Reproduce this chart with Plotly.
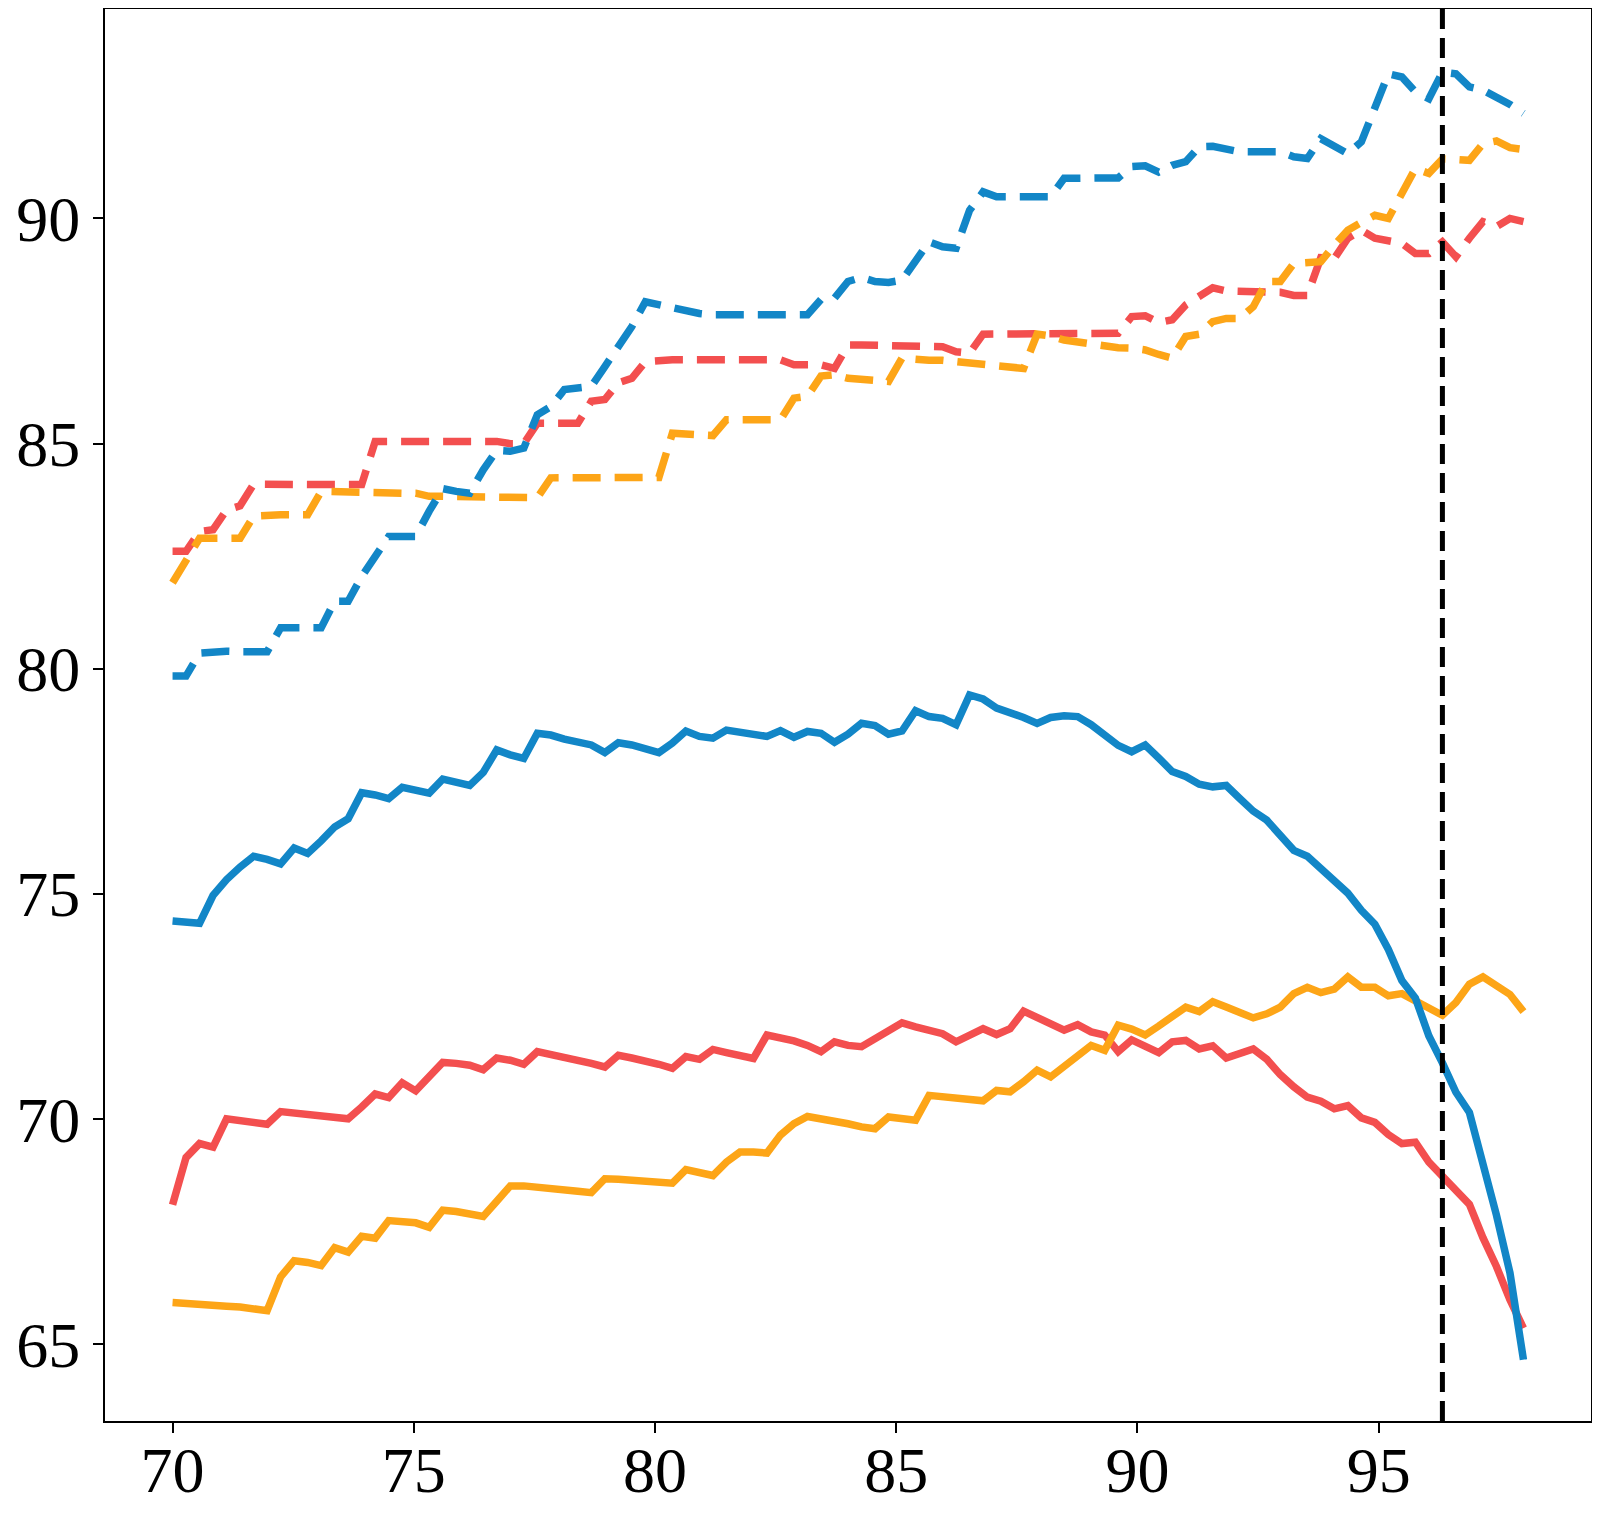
import numpy as np
import plotly.graph_objects as go

# x grid: 101 evenly spaced samples from 70 to 98
x = np.round(np.linspace(70, 98, 101), 2)

blue_solid = [74.4, 74.36, 74.35, 74.97, 75.32, 75.6, 75.84, 75.77, 75.67, 76.02,
              75.9, 76.18, 76.49, 76.67, 77.25, 77.2, 77.12, 77.37, 77.31, 77.24,
              77.55, 77.49, 77.41, 77.7, 78.2, 78.09, 78.01, 78.57, 78.53, 78.44,
              78.37, 78.31, 78.14, 78.36, 78.31, 78.24, 78.14, 78.35, 78.62, 78.5,
              78.46, 78.64, 78.59, 78.51, 78.5, 78.63, 78.48, 78.61, 78.57, 78.37,
              78.55, 78.79, 78.74, 78.55, 78.62, 79.07, 78.94, 78.9, 78.76, 79.42,
              79.33, 79.13, 79.04, 78.92, 78.79, 78.92, 78.96, 78.94, 78.76, 78.52,
              78.3, 78.16, 78.31, 78.02, 77.72, 77.61, 77.44, 77.38, 77.41, 77.12,
              76.84, 76.64, 76.33, 75.97, 75.84, 75.56, 75.27, 75.02, 74.64, 74.33,
              73.77, 73.08, 72.69, 71.85, 71.25, 70.6, 70.15, 69.05, 67.87, 66.59,
              64.66]

red_solid = [68.1, 69.15, 69.46, 69.38, 70.01, 69.97, 69.93, 69.89, 70.17, 70.14,
             70.09, 70.08, 70.07, 70.01, 70.27, 70.56, 70.48, 70.81, 70.63, 70.95,
             71.26, 71.24, 71.2, 71.1, 71.36, 71.31, 71.22, 71.5, 71.44, 71.39,
             71.33, 71.24, 71.16, 71.42, 71.36, 71.3, 71.22, 71.13, 71.39, 71.33,
             71.55, 71.48, 71.4, 71.35, 71.87, 71.81, 71.74, 71.64, 71.5, 71.72,
             71.64, 71.61, 71.79, 71.98, 72.14, 72.05, 71.98, 71.9, 71.72, 71.87,
             72.01, 71.88, 72.01, 72.4, 72.25, 72.13, 71.98, 72.1, 71.94, 71.87,
             71.5, 71.76, 71.64, 71.48, 71.72, 71.75, 71.56, 71.63, 71.36, 71.46,
             71.56, 71.33, 70.99, 70.72, 70.49, 70.4, 70.23, 70.3, 70.03, 69.93,
             69.66, 69.46, 69.49, 69.05, 68.75, 68.46, 68.11, 67.37, 66.73, 65.99,
             65.36]

orange_solid = [65.93, 65.92, 65.9, 65.88, 65.85, 65.83, 65.8, 65.75, 66.5, 66.86,
                66.82, 66.75, 67.15, 67.05, 67.4, 67.36, 67.75, 67.72, 67.7, 67.6,
                67.98, 67.95, 67.9, 67.84, 68.18, 68.52, 68.52, 68.5, 68.46, 68.43,
                68.4, 68.37, 68.68, 68.67, 68.65, 68.62, 68.6, 68.58, 68.88, 68.82,
                68.75, 69.05, 69.27, 69.27, 69.25, 69.65, 69.9, 70.06, 70.02, 69.98,
                69.9, 69.83, 69.79, 70.05, 70.01, 69.98, 70.53, 70.5, 70.46, 70.44,
                70.41, 70.64, 70.61, 70.83, 71.09, 70.94, 71.16, 71.39, 71.64, 71.53,
                72.09, 72.0, 71.87, 72.07, 72.3, 72.49, 72.39, 72.61, 72.49, 72.39,
                72.25, 72.34, 72.49, 72.79, 72.93, 72.81, 72.89, 73.16, 72.93, 72.93,
                72.74, 72.79, 72.64, 72.49, 72.31, 72.59, 73.0, 73.16, 72.96, 72.77,
                72.39]

blue_dashed = [79.84, 79.84, 80.35, 80.39, 80.39, 80.38, 80.38, 80.38, 80.91, 80.91,
               80.91, 80.91, 81.5, 81.5, 82.05, 82.46, 82.94, 82.94, 82.94, 83.5,
               84.0, 83.94, 83.9, 84.42, 84.85, 84.83, 84.9, 85.64, 85.82, 86.2,
               86.23, 86.27, 86.71, 87.12, 87.6, 88.15, 88.09, 88.02, 87.93, 87.89,
               87.86, 87.86, 87.86, 87.86, 87.86, 87.86, 87.86, 87.86, 88.2, 88.23,
               88.6, 88.69, 88.6, 88.58, 88.63, 89.05, 89.48, 89.37, 89.34, 90.18,
               90.59, 90.48, 90.48, 90.48, 90.48, 90.48, 90.89, 90.9, 90.9, 90.9,
               90.9, 91.15, 91.17, 91.03, 91.18, 91.26, 91.59, 91.6, 91.55, 91.48,
               91.48, 91.48, 91.48, 91.37, 91.33, 91.77, 91.6, 91.44, 91.7, 92.48,
               93.21, 93.14, 92.81, 92.66, 93.25, 93.21, 92.92, 92.85, 92.7, 92.53,
               92.33]

red_dashed = [82.61, 82.61, 83.05, 83.09, 83.53, 83.62, 84.1, 84.09, 84.09, 84.09,
              84.09, 84.09, 84.09, 84.09, 84.09, 85.05, 85.05, 85.05, 85.05, 85.05,
              85.05, 85.05, 85.05, 85.05, 85.05, 85.0, 85.0, 85.45, 85.45, 85.45,
              85.45, 85.94, 85.98, 86.35, 86.45, 86.82, 86.86, 86.86, 86.86, 86.86,
              86.86, 86.86, 86.86, 86.86, 86.86, 86.86, 86.75, 86.75, 86.75, 86.67,
              87.19, 87.19, 87.19, 87.19, 87.19, 87.19, 87.19, 87.15, 87.04, 87.01,
              87.43, 87.43, 87.43, 87.43, 87.43, 87.43, 87.43, 87.43, 87.43, 87.43,
              87.45, 87.82, 87.84, 87.69, 87.75, 88.08, 88.26, 88.46, 88.39, 88.39,
              88.39, 88.39, 88.36, 88.29, 88.29, 89.13, 89.11, 89.56, 89.74, 89.56,
              89.5, 89.45, 89.22, 89.22, 89.48, 89.15, 89.56, 89.93, 89.82, 90.0,
              89.93]

orange_dashed = [81.91, 82.4, 82.9, 82.9, 82.88, 82.9, 83.39, 83.42, 83.42, 83.42,
                 83.42, 83.94, 83.93, 83.9, 83.9, 83.9, 83.9, 83.9, 83.9, 83.83,
                 83.83, 83.83, 83.83, 83.83, 83.83, 83.83, 83.79, 83.8, 84.24, 84.24,
                 84.24, 84.24, 84.24, 84.24, 84.24, 84.24, 84.25, 85.23, 85.2, 85.18,
                 85.18, 85.53, 85.53, 85.53, 85.53, 85.53, 86.01, 86.05, 86.5, 86.53,
                 86.45, 86.42, 86.39, 86.38, 86.9, 86.86, 86.85, 86.85, 86.82, 86.79,
                 86.75, 86.71, 86.67, 86.67, 87.43, 87.39, 87.3, 87.25, 87.23, 87.19,
                 87.13, 87.12, 87.08, 86.98, 86.9, 87.38, 87.43, 87.71, 87.78, 87.78,
                 88.04, 88.6, 88.6, 89.0, 89.0, 89.04, 89.41, 89.74, 89.91, 90.07,
                 90.0, 90.55, 91.11, 91.0, 91.32, 91.31, 91.29, 91.66, 91.72, 91.57,
                 91.53]

vline_x = 96.32
x_ticks = [70, 75, 80, 85, 90, 95]
y_ticks = [65, 70, 75, 80, 85, 90]

BLUE = "#1286C7"
RED = "#F34F4F"
ORANGE = "#FDA517"

fig = go.Figure()
dash_style = "28px,14px"
for ys, col in [(red_dashed, RED), (orange_dashed, ORANGE), (blue_dashed, BLUE)]:
    fig.add_trace(go.Scatter(x=x, y=ys, mode="lines",
                             line=dict(color=col, width=7.5, dash=dash_style),
                             showlegend=False, hoverinfo="skip"))
for ys, col in [(red_solid, RED), (orange_solid, ORANGE), (blue_solid, BLUE)]:
    fig.add_trace(go.Scatter(x=x, y=ys, mode="lines",
                             line=dict(color=col, width=7.5),
                             showlegend=False, hoverinfo="skip"))

fig.add_shape(type="line", xref="x", yref="paper", x0=vline_x, x1=vline_x,
              y0=0, y1=1, line=dict(color="black", width=5, dash="20px,9px"))

FONT = dict(family="Liberation Serif", size=64, color="black")
axis_common = dict(showline=True, linecolor="black", linewidth=2, mirror=True,
                   ticks="outside", ticklen=10, tickwidth=2, tickcolor="black",
                   showgrid=False, zeroline=False, tickfont=FONT)

fig.update_xaxes(range=[68.6, 99.4], tickvals=x_ticks, ticktext=[str(t) for t in x_ticks],
                 ticklabelstandoff=-18, **axis_common)
fig.update_yaxes(range=[63.30, 94.65], tickvals=y_ticks, ticktext=[str(t) for t in y_ticks],
                 **axis_common)

# page body adds an 8px margin; size the figure so the plot area lands where it should
fig.update_layout(width=1584, height=1504,
                  margin=dict(l=97, r=1, t=1, b=91, autoexpand=False),
                  plot_bgcolor="white", paper_bgcolor="white")

fig.write_html("out.html")
